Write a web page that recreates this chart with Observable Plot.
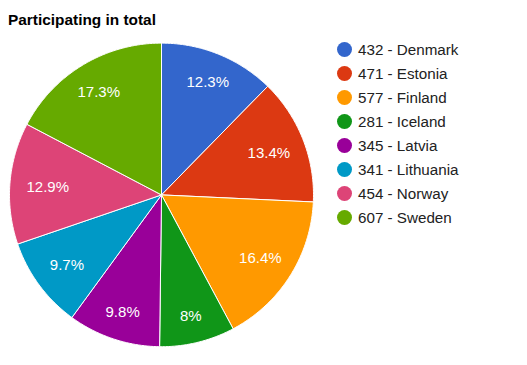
<!DOCTYPE html>
<html>
<head>
<meta charset="utf-8">
<script src="https://cdn.jsdelivr.net/npm/d3@7"></script>
<script src="https://cdn.jsdelivr.net/npm/@observablehq/plot@0.6"></script>
<style>
  html, body { margin: 0; padding: 0; background: #fff; }
  #wrap { position: relative; width: 527px; height: 365px; font-family: Arial, "Liberation Sans", sans-serif; }
  #wrap svg { position: absolute; left: 0; top: 0; }
  #title { position: absolute; left: 8px; top: 12px; font-size: 15.4px; line-height: 15px; font-weight: bold; color: #000; white-space: nowrap; }
  #legend { position: absolute; left: 337px; top: 37px; }
  .row { display: flex; align-items: center; height: 24px; font-size: 15.2px; color: #222; white-space: nowrap; }
  .sw { width: 15px; height: 15px; border-radius: 50%; margin-right: 6px; flex: none; }
</style>
</head>
<body>
<div id="wrap">
  <div id="title">Participating in total</div>
  <div id="legend"></div>
</div>
<script>
const countries = ["Denmark", "Estonia", "Finland", "Iceland", "Latvia", "Lithuania", "Norway", "Sweden"];
const participants = [432, 471, 577, 281, 345, 341, 454, 607];
const colors = ["#3366cc", "#dc3912", "#ff9900", "#109618", "#990099", "#0099c6", "#dd4477", "#66aa00"];

const data = countries.map((c, i) => ({name: c, value: participants[i]}));
const total = d3.sum(participants);
const arcs = d3.pie().value(d => d.value).sort(null)(data);

// slice outlines in unit-circle coordinates (angle 0 = top, clockwise)
const pts = [];
for (const a of arcs) {
  const n = Math.max(2, Math.ceil((a.endAngle - a.startAngle) / 0.01));
  pts.push({name: a.data.name, x: 0, y: 0});
  for (let k = 0; k <= n; k++) {
    const t = a.startAngle + (a.endAngle - a.startAngle) * k / n;
    pts.push({name: a.data.name, x: Math.sin(t), y: Math.cos(t)});
  }
  pts.push({name: a.data.name, x: 0, y: 0});
}

const fmt = v => {
  const s = (v * 100).toFixed(1);
  return (s.endsWith(".0") ? s.slice(0, -2) : s) + "%";
};
const labels = arcs.map(a => {
  const m = (a.startAngle + a.endAngle) / 2;
  const c = Math.cos(m), s = Math.sin(m);
  const r = 0.75 + 0.066 * c * c;
  return {name: a.data.name, x: r * s, y: r * c, text: fmt(a.data.value / total)};
});

const chart = Plot.plot({
  width: 527,
  height: 365,
  margin: 0,
  axis: null,
  style: {fontFamily: "Arial, 'Liberation Sans', sans-serif", background: "transparent"},
  x: {domain: [-1, 1], range: [9, 313]},
  y: {domain: [-1, 1], range: [346.2, 42.6]},
  color: {domain: countries, range: colors},
  marks: [
    Plot.line(pts, {x: "x", y: "y", z: "name", fill: "name", stroke: "white", strokeWidth: 1, curve: "linear", strokeLinejoin: "round"}),
    Plot.text(labels, {x: "x", y: "y", dy: 1, text: "text", fill: "white", fontSize: 15})
  ]
});
document.getElementById("wrap").prepend(chart);

const legend = document.getElementById("legend");
data.forEach((d, i) => {
  const row = document.createElement("div");
  row.className = "row";
  const sw = document.createElement("span");
  sw.className = "sw";
  sw.style.background = colors[i];
  const tx = document.createElement("span");
  tx.textContent = `${d.value} - ${d.name}`;
  row.append(sw, tx);
  legend.append(row);
});
</script>
</body>
</html>
